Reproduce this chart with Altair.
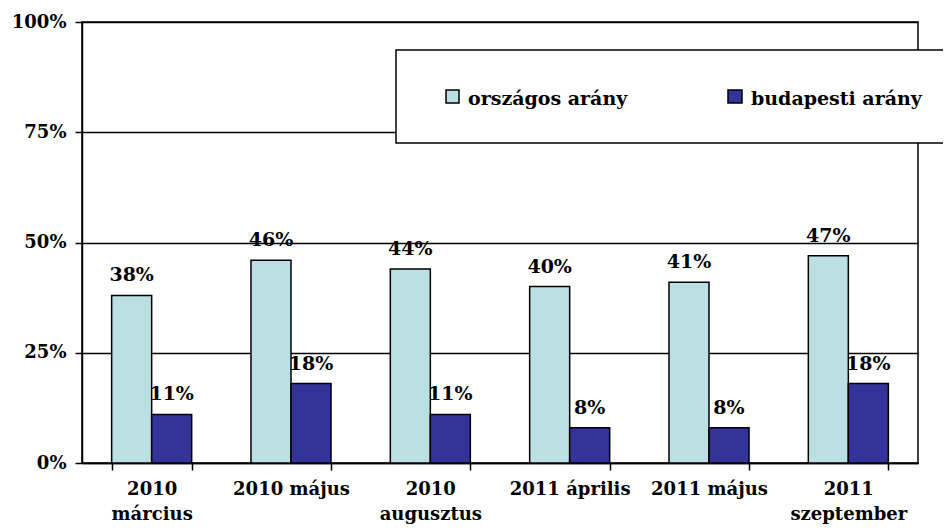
import altair as alt
import pandas as pd

categories = ["2010|március", "2010 május", "2010|augusztus", "2011 április", "2011 május", "2011|szeptember"]
series = ["országos arány", "budapesti arány"]
orszagos = [0.38, 0.46, 0.44, 0.40, 0.41, 0.47]
budapesti = [0.11, 0.18, 0.11, 0.08, 0.08, 0.18]
colors = ["#BCDFE4", "#333399"]

rows = []
for i, c in enumerate(categories):
    rows.append({"cat": c, "series": series[0], "value": orszagos[i]})
    rows.append({"cat": c, "series": series[1], "value": budapesti[i]})
df = pd.DataFrame(rows)

FONT = "DejaVu Serif"

xenc = alt.X("cat:N", sort=categories, title=None,
             scale=alt.Scale(paddingInner=0.4257, paddingOuter=0.2128),
             axis=alt.Axis(labelExpr="split(datum.label, '|')", labelAngle=0,
                           tickBand="extent", tickSize=7, tickColor="black", tickWidth=1.5,
                           domainColor="black", domainWidth=1.5,
                           labelFont=FONT, labelFontSize=18, labelFontWeight="bold",
                           labelColor="black", labelPadding=10, labelLineHeight=25,
                           labelBaseline="top", grid=False))
yenc = alt.Y("value:Q", title=None,
             scale=alt.Scale(domain=[0, 1]),
             axis=alt.Axis(values=[0, 0.25, 0.5, 0.75, 1], format=".0%",
                           grid=True, gridColor="black", gridWidth=1.5, gridOpacity=1,
                           tickSize=7, tickColor="black", tickWidth=1.5,
                           domainColor="black", domainWidth=1.5,
                           labelFont=FONT, labelFontSize=18, labelFontWeight="bold",
                           labelColor="black", labelPadding=9))
cenc = alt.Color("series:N", sort=series,
                 scale=alt.Scale(domain=series, range=colors), legend=None)
xoff = alt.XOffset("series:N", sort=series)

bars = alt.Chart(df).mark_bar(stroke="black", strokeWidth=1.5).encode(
    x=xenc, xOffset=xoff, y=yenc, color=cenc
)
labels = alt.Chart(df).mark_text(
    baseline="bottom", dy=-10, font=FONT, fontSize=19, fontWeight="bold", color="black"
).encode(
    x=alt.X("cat:N", sort=categories), xOffset=xoff, y="value:Q",
    text=alt.Text("value:Q", format=".0%")
)

one = pd.DataFrame({"k": [0]})
legend_box = alt.Chart(one).mark_rect(fill="white", stroke="black", strokeWidth=1.5).encode(
    x=alt.value(314), x2=alt.value(880), y=alt.value(28), y2=alt.value(121)
)
sq1 = alt.Chart(one).mark_rect(fill=colors[0], stroke="black", strokeWidth=1.5).encode(
    x=alt.value(364), x2=alt.value(377), y=alt.value(68), y2=alt.value(81)
)
sq2 = alt.Chart(one).mark_rect(fill=colors[1], stroke="black", strokeWidth=1.5).encode(
    x=alt.value(646), x2=alt.value(660), y=alt.value(68), y2=alt.value(81)
)
t1 = alt.Chart(one).mark_text(
    align="left", baseline="middle", font=FONT, fontSize=19, fontWeight="bold", color="black"
).encode(x=alt.value(386), y=alt.value(77), text=alt.value(series[0]))
t2 = alt.Chart(one).mark_text(
    align="left", baseline="middle", font=FONT, fontSize=19, fontWeight="bold", color="black"
).encode(x=alt.value(669), y=alt.value(77), text=alt.value(series[1]))

chart = alt.layer(bars, labels, legend_box, sq1, sq2, t1, t2).properties(
    width=836, height=441,
    autosize=alt.AutoSizeParams(type="none"),
    padding={"left": 74, "top": 14, "right": 25, "bottom": 61},
).configure_view(stroke="black", strokeWidth=1.5)

chart.save("out.html", embed_options={"renderer": "svg", "actions": False})
